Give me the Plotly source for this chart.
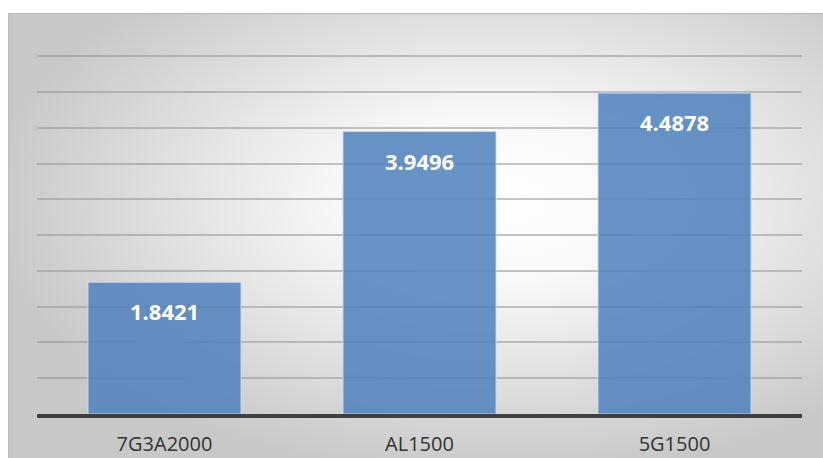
import base64
import plotly.graph_objects as go

# Chart data
categories = ["7G3A2000", "AL1500", "5G1500"]
values = [1.8421, 3.9496, 4.4878]

W, H = 823, 458
M_L, M_R, M_T, M_B = 37, 21, 55, 44
Y_MAX = 5.02
plot_w = W - M_L - M_R
plot_h = H - M_T - M_B

# Radial-gradient chart-area background drawn as an SVG image
svg = """<svg xmlns='http://www.w3.org/2000/svg' width='815' height='445' viewBox='0 0 815 445' preserveAspectRatio='none'>
<defs><radialGradient id='g' cx='0.6' cy='0.42' r='0.62' gradientUnits='objectBoundingBox'>
<stop offset='0' stop-color='#ffffff'/>
<stop offset='0.3' stop-color='#f8f8f8'/>
<stop offset='1' stop-color='#c8c8c8'/>
</radialGradient></defs>
<rect x='0' y='0' width='815' height='445' fill='url(#g)'/>
<line x1='0' y1='0.5' x2='815' y2='0.5' stroke='#bdbdbd' stroke-width='1.5'/>
<line x1='0.5' y1='0' x2='0.5' y2='445' stroke='#bdbdbd' stroke-width='1.5'/>
</svg>"""
bg_src = "data:image/svg+xml;base64," + base64.b64encode(svg.encode()).decode()

frame_x0, frame_y0 = 8, 13
px = lambda x: (x - M_L) / plot_w
py = lambda y: (H - M_B - y) / plot_h

fig = go.Figure(
    go.Bar(
        x=categories,
        y=values,
        width=0.6,
        marker=dict(
            color="rgba(79,129,189,0.86)",
            line=dict(color="rgba(200,218,240,0.9)", width=1),
        ),
        hoverinfo="skip",
    )
)

# Value labels inside the top of each bar
for c, v in zip(categories, values):
    fig.add_annotation(
        x=c, y=v, xref="x", yref="y",
        text=f"<b>{v:.4f}</b>",
        showarrow=False,
        yanchor="middle",
        yshift=-29,
        font=dict(family="Open Sans", size=22, color="white"),
    )

fig.add_layout_image(
    source=bg_src,
    xref="paper", yref="paper",
    x=px(frame_x0), y=py(frame_y0),
    sizex=px(W) - px(frame_x0), sizey=py(frame_y0) - py(H),
    xanchor="left", yanchor="top",
    sizing="stretch",
    layer="below",
)

fig.update_layout(
    width=W, height=H,
    margin=dict(l=M_L, r=M_R, t=M_T, b=M_B, autoexpand=False),
    paper_bgcolor="white",
    plot_bgcolor="rgba(0,0,0,0)",
    showlegend=False,
    bargap=0.4,
    font=dict(family="Open Sans", color="#333333"),
    xaxis=dict(
        showline=True, linecolor="#404040", linewidth=3.5,
        showgrid=False, ticks="",
        tickfont=dict(size=20, color="#333333"),
        ticklabelstandoff=9,
        automargin=False,
        fixedrange=True,
    ),
    yaxis=dict(
        range=[0, Y_MAX], tick0=0, dtick=0.5,
        showgrid=True, gridcolor="rgba(150,150,150,0.55)", gridwidth=1.5,
        zeroline=False, showticklabels=False, ticks="",
        automargin=False,
        fixedrange=True,
    ),
)

fig.write_html("out.html")
